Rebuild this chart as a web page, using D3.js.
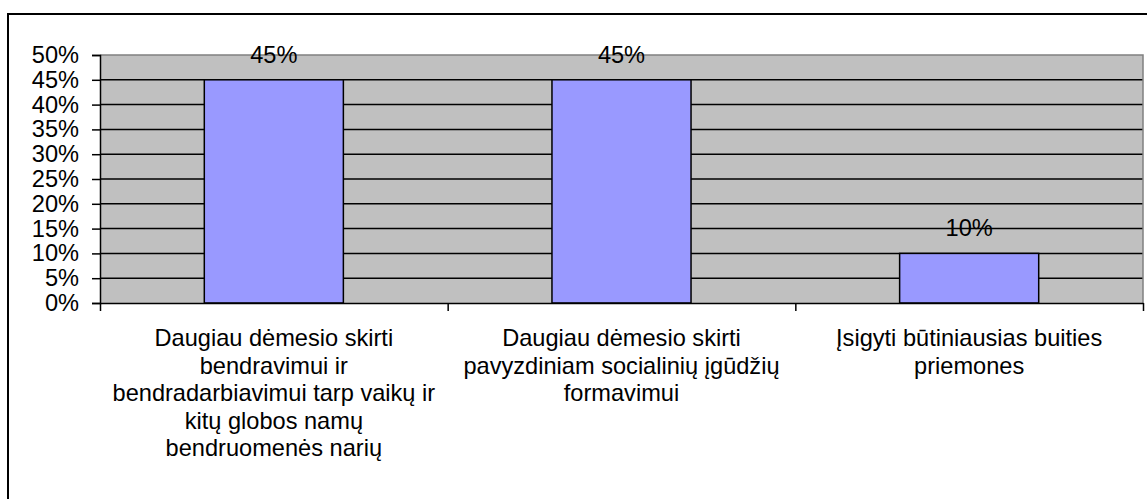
<!DOCTYPE html>
<html>
<head>
<meta charset="utf-8">
<script src="https://cdn.jsdelivr.net/npm/d3@7"></script>
<style>
  body { margin: 0; background: #fff; }
  svg { display: block; font-family: Arial, "Liberation Sans", sans-serif; }
</style>
</head>
<body>
<svg id="chart"></svg>
<script>
const categories = [
  "Daugiau dėmesio skirti bendravimui ir bendradarbiavimui tarp vaikų ir kitų globos namų bendruomenės narių",
  "Daugiau dėmesio skirti pavyzdiniam socialinių įgūdžių formavimui",
  "Įsigyti būtiniausias buities priemones"
];
const values = [0.45, 0.45, 0.10];
const yTicks = [0, 0.05, 0.10, 0.15, 0.20, 0.25, 0.30, 0.35, 0.40, 0.45, 0.50];

const width = 1147;
const height = 499;
const plot = {left: 100, right: 1143, top: 55, bottom: 303};
const fontSize = 23.6;

const svg = d3.select("#chart")
  .attr("width", width)
  .attr("height", height);

// outer chart frame (runs off the right and bottom of the picture)
svg.append("rect")
  .attr("x", 8).attr("y", 14)
  .attr("width", 1200).attr("height", 600)
  .attr("fill", "white")
  .attr("stroke", "#000")
  .attr("stroke-width", 2);

const x = d3.scaleBand()
  .domain(categories)
  .range([plot.left, plot.right])
  .paddingInner(0.6)
  .paddingOuter(0.3);

const y = d3.scaleLinear()
  .domain([0, 0.5])
  .range([plot.bottom, plot.top]);

// plot area
svg.append("rect")
  .attr("x", plot.left).attr("y", plot.top)
  .attr("width", plot.right - plot.left)
  .attr("height", plot.bottom - plot.top)
  .attr("fill", "#c0c0c0");

// gridlines
svg.append("g")
  .selectAll("line")
  .data(yTicks.filter(t => t > 0 && t < 0.5))
  .enter()
  .append("line")
  .attr("x1", plot.left).attr("x2", plot.right)
  .attr("y1", d => y(d)).attr("y2", d => y(d))
  .attr("stroke", "#000")
  .attr("stroke-width", 1.5);

// gray border on top and right of the plot area
svg.append("path")
  .attr("d", `M${plot.left},${y(0.5)}H${plot.right}V${plot.bottom}`)
  .attr("fill", "none")
  .attr("stroke", "#808080")
  .attr("stroke-width", 1.5);

// bars
svg.append("g")
  .selectAll("rect")
  .data(values)
  .enter()
  .append("rect")
  .attr("x", (d, i) => x(categories[i]))
  .attr("y", d => y(d))
  .attr("width", x.bandwidth())
  .attr("height", d => y(0) - y(d))
  .attr("fill", "#9999ff")
  .attr("stroke", "#000")
  .attr("stroke-width", 1.5);

// value labels
svg.append("g")
  .selectAll("text")
  .data(values)
  .enter()
  .append("text")
  .attr("x", (d, i) => x(categories[i]) + x.bandwidth() / 2)
  .attr("y", d => y(d) - 17)
  .attr("text-anchor", "middle")
  .style("font-size", fontSize + "px")
  .text(d => d3.format(".0%")(d));

// y axis
const yAxis = svg.append("g")
  .attr("transform", `translate(${plot.left},0)`)
  .call(d3.axisLeft(y).tickValues(yTicks).tickFormat(d3.format(".0%"))
    .tickSize(8).tickPadding(13));
yAxis.select(".domain").attr("stroke", "#000").attr("stroke-width", 1.5);
yAxis.selectAll(".tick line").attr("stroke", "#000").attr("stroke-width", 1.5);
yAxis.selectAll(".tick text")
  .attr("fill", "#000")
  .style("font-size", fontSize + "px")
  .style("font-family", "Arial, 'Liberation Sans', sans-serif");

// x axis: ticks between categories
const xEdges = d3.scaleLinear().domain([0, categories.length]).range([plot.left, plot.right]);
const xAxis = svg.append("g")
  .attr("transform", `translate(0,${plot.bottom})`)
  .call(d3.axisBottom(xEdges).tickValues(d3.range(categories.length + 1))
    .tickFormat("").tickSize(8).tickSizeOuter(0));
xAxis.select(".domain").attr("stroke", "#000").attr("stroke-width", 1.5);
xAxis.selectAll(".tick line").attr("stroke", "#000").attr("stroke-width", 1.5);

// category labels, wrapped
const labels = svg.append("g")
  .selectAll("text")
  .data(categories)
  .enter()
  .append("text")
  .attr("x", d => x(d) + x.bandwidth() / 2)
  .attr("y", 346)
  .attr("text-anchor", "middle")
  .style("font-size", fontSize + "px")
  .text(d => d);

labels.each(function(d) {
  const text = d3.select(this);
  const cx = text.attr("x");
  const words = d.split(" ");
  text.text(null);
  let line = [];
  let tspan = text.append("tspan").attr("x", cx).attr("dy", 0);
  words.forEach(w => {
    line.push(w);
    tspan.text(line.join(" "));
    if (tspan.node().getComputedTextLength() > 334 && line.length > 1) {
      line.pop();
      tspan.text(line.join(" "));
      line = [w];
      tspan = text.append("tspan").attr("x", cx).attr("dy", 27.5).text(w);
    }
  });
});
</script>
</body>
</html>
